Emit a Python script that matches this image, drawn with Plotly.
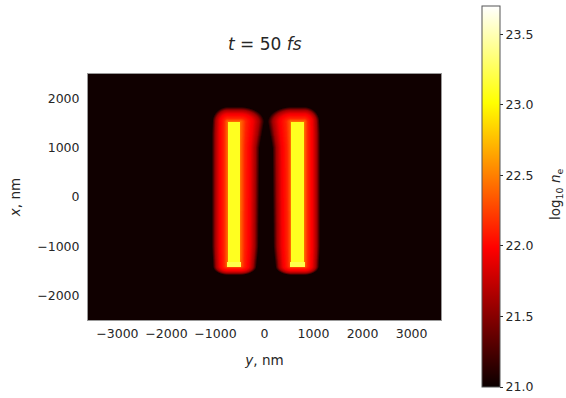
import numpy as np
import plotly.graph_objects as go

# Simulation window (nm): horizontal axis is y, vertical axis is x
y_range_nm = [-3600, 3600]
x_range_nm = [-2500, 2500]
grid_step_nm = 20

# Two dense plasma slabs
bar_center_nm = [-620, 680]
bar_half_width_nm = [130, 130]
bar_x_bottom_nm = -1410
bar_x_top_nm = 1530
bar_log_ne = 23.1
cap_log_ne = 23.22         # brighter foot at the lower end of each slab
cap_height_nm = 70
cap_half_width_nm = 150

background_log_ne = 21.02

# Expanding plasma halo: lateral extent along x
halo_x_nm = [-1410, -1000, 0, 1000, 1300, 1530]
halo_outer_nm = [300, 320, 320, 320, 320, 310]
halo_inner_nm = [330, 370, 380, 390, 440, 480]
halo_top_nm = 300
halo_bottom_nm = 180

# Halo density vs normalised distance from the slab surface
halo_r = [0.0, 0.25, 0.55, 0.8, 1.0]
halo_log_ne = [22.45, 22.12, 21.93, 21.6, 21.04]

# Axes and colour bar
cbar_min, cbar_max = 21.0, 23.7
cbar_ticks = [21.0, 21.5, 22.0, 22.5, 23.0, 23.5]
y_ticks = [-3000, -2000, -1000, 0, 1000, 2000, 3000]
x_ticks = [-2000, -1000, 0, 1000, 2000]

# ---- density map ----
yy = np.arange(y_range_nm[0], y_range_nm[1] + 1, grid_step_nm)
xx = np.arange(x_range_nm[0], x_range_nm[1] + 1, grid_step_nm)
Y, X = np.meshgrid(yy, xx)
z = np.full(Y.shape, background_log_ne, dtype=float)

for c, hw in zip(bar_center_nm, bar_half_width_nm):
    s = (Y - c) * (-np.sign(c))            # positive towards the gap between slabs
    xc = np.clip(X, bar_x_bottom_nm, bar_x_top_nm)
    w_lat = np.where(s > 0,
                     np.interp(xc, halo_x_nm, halo_inner_nm),
                     np.interp(xc, halo_x_nm, halo_outer_nm))
    lateral = np.maximum(np.abs(s) - hw, 0)
    along = np.where(X > bar_x_top_nm, X - bar_x_top_nm,
                     np.where(X < bar_x_bottom_nm, bar_x_bottom_nm - X, 0))
    w_end = np.where(X > bar_x_top_nm, halo_top_nm, halo_bottom_nm)
    r = np.sqrt((lateral / w_lat) ** 2 + (along / w_end) ** 2)
    halo = np.interp(r, halo_r, halo_log_ne, right=background_log_ne)
    z = np.maximum(z, halo)
    z = np.where((lateral == 0) & (along == 0), bar_log_ne, z)
    cap = ((np.abs(s) <= cap_half_width_nm) & (X >= bar_x_bottom_nm - 10)
           & (X <= bar_x_bottom_nm + cap_height_nm))
    z = np.where(cap, cap_log_ne, z)

z = np.round(z, 2)

# matplotlib "hot" colormap
hot = [[0.0, "rgb(11,0,0)"], [0.365079, "rgb(255,0,0)"],
       [0.746032, "rgb(255,255,0)"], [1.0, "rgb(255,255,255)"]]

W, H = 566, 398
L, R, T, B = 88, 441, 74, 320
pw, ph = R - L, B - T
txt = "#262626"
font = "DejaVu Sans"

fig = go.Figure(go.Heatmap(
    x=yy, y=xx, z=z, colorscale=hot, zmin=cbar_min, zmax=cbar_max,
    hoverinfo="skip",
    colorbar=dict(
        thickness=18, thicknessmode="pixels",
        len=381 / ph, lenmode="fraction",
        x=(482 - L) / pw, xanchor="left", xpad=0,
        y=(B - 196.5) / ph, yanchor="middle", ypad=0,
        outlinewidth=1, outlinecolor="#555555",
        ticks="outside", ticklen=3, tickcolor=txt,
        tickvals=cbar_ticks, ticktext=[f"{v:.1f}" for v in cbar_ticks],
        tickfont=dict(family=font, size=12.5, color=txt),
    ),
))

fig.update_layout(
    width=W, height=H,
    margin=dict(l=L, r=W - R, t=T, b=H - B, pad=0, autoexpand=False),
    paper_bgcolor="white", plot_bgcolor="white",
    font=dict(family=font, color=txt),
    showlegend=False,
    xaxis=dict(
        range=y_range_nm, tickvals=y_ticks, showgrid=False, zeroline=False,
        showline=True, mirror=True, linecolor="#999999", linewidth=1,
        ticks="outside", ticklen=2, tickcolor="rgba(0,0,0,0)",
        tickfont=dict(family=font, size=12.5, color=txt),
        title=dict(text="<i>y</i>, nm", font=dict(family=font, size=13.5, color=txt), standoff=15),
    ),
    yaxis=dict(
        range=x_range_nm, tickvals=x_ticks, showgrid=False, zeroline=False,
        showline=True, mirror=True, linecolor="#999999", linewidth=1,
        ticks="outside", ticklen=5, tickcolor="rgba(0,0,0,0)",
        tickfont=dict(family=font, size=12.5, color=txt),
        title=dict(text="<i>x</i>, nm", font=dict(family=font, size=13.5, color=txt), standoff=13),
    ),
    annotations=[
        dict(text="<i>t</i> = 50 <i>fs</i>", xref="paper", yref="paper",
             x=0.5, y=(B - 44) / ph, xanchor="center", yanchor="middle",
             showarrow=False, font=dict(family=font, size=17, color=txt)),
        dict(text="log<sub>10</sub> <i>n</i><sub>e</sub>", xref="paper", yref="paper",
             x=(556 - L) / pw, y=(B - 195) / ph, xanchor="center", yanchor="middle",
             textangle=-90, showarrow=False, font=dict(family=font, size=13.5, color=txt)),
    ],
)

fig.write_html("out.html")
